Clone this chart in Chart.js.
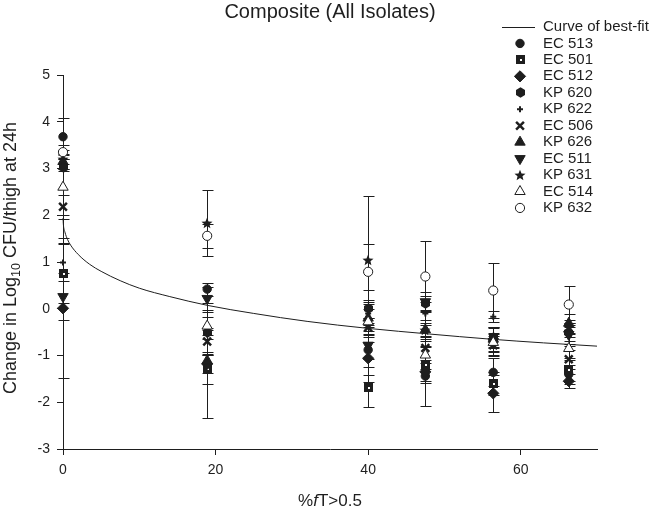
<!DOCTYPE html>
<html>
<head>
<meta charset="utf-8">
<script src="https://cdn.jsdelivr.net/npm/chart.js@4.4.1/dist/chart.umd.min.js"></script>
<style>
  html, body { margin: 0; padding: 0; background: #fff; }
</style>
</head>
<body>
<canvas id="chart" width="650" height="509"></canvas>
<script>
// x positions (%fT>0.5) shared by every isolate
const xValues = [0, 18.9, 40, 47.5, 56.4, 66.3];
const xTicks = [0, 20, 40, 60];

// change in log10 CFU/thigh, mean and error per isolate
const ec513 = [3.68, 0.42, -0.88, -1.44, -1.36, -1.40];
const ec513Err = [0.40, 0.14, 0.68, 0.64, 0.30, 0.20];
const ec501 = [0.76, -1.27, -1.68, -1.20, -1.60, -1.30];
const ec501Err = [0.64, 0.35, 0.43, 0.38, 0.25, 0.25];
const ec512 = [0.01, -1.18, -1.06, -1.35, -1.81, -1.55];
const ec512Err = [1.50, 0.20, 0.35, 0.20, 0.40, 0.15];
const kp620 = [3.02, -0.51, 0.01, 0.12, -0.62, -0.50];
const kp620Err = [0.08, 0.45, 0.39, 0.15, 0.20, 0.20];
const kp622 = [0.99, -0.55, -0.10, -0.10, -0.17, -0.60];
const kp622Err = [0.40, 0.10, 0.20, 0.25, 0.12, 0.20];
const ec506 = [2.18, -0.70, -0.40, -0.84, -0.78, -1.08];
const ec506Err = [0.26, 0.29, 0.20, 0.25, 0.20, 0.20];
const kp626 = [3.15, -1.11, -0.20, -0.45, -0.65, -0.31];
const kp626Err = [0.15, 1.23, 0.35, 0.20, 0.25, 0.20];
const ec511 = [0.26, 0.22, -0.78, 0.15, -0.70, -0.55];
const ec511Err = [0.50, 0.25, 0.30, 0.20, 0.30, 0.20];
const kp631 = [3.20, 1.83, 1.04, -0.45, -0.68, -0.40];
const kp631Err = [0.20, 0.70, 1.38, 0.15, 0.15, 0.15];
const ec514 = [2.60, -0.37, -0.28, -0.99, -0.72, -0.85];
const ec514Err = [0.60, 0.20, 0.28, 0.30, 0.20, 0.25];
const kp632 = [3.35, 1.56, 0.79, 0.69, 0.39, 0.09];
const kp632Err = [0.15, 0.25, 0.60, 0.75, 0.58, 0.40];

// curve of best-fit
const curveX = [0, 0.05, 0.25, 0.6, 1, 2, 3.5, 5, 7.5, 10, 14, 19, 25, 32, 40, 48, 56, 63, 70];
const curveY = [1.94, 1.80, 1.64, 1.48, 1.36, 1.16, 0.95, 0.80, 0.60, 0.44, 0.26, 0.07, -0.10, -0.27, -0.42, -0.54, -0.65, -0.73, -0.80];

const FONT = "'Liberation Sans', Arial, Helvetica, sans-serif";
const INK = '#1e1e1e';

// marker images that chart.js doesn't have built in
function markerCanvas(size, draw) {
  const c = document.createElement('canvas');
  c.width = size; c.height = size;
  const g = c.getContext('2d');
  g.fillStyle = INK;
  draw(g, size / 2);
  return c;
}
const squareDot = markerCanvas(9, (g) => {
  g.fillRect(0, 0, 9, 9);
  g.fillStyle = '#fff';
  g.fillRect(4, 4, 2, 2);
});
const hexagon = markerCanvas(11, (g, m) => {
  g.beginPath();
  for (let i = 0; i < 6; i++) {
    const a = -Math.PI / 2 + i * Math.PI / 3;
    g.lineTo(m + Math.cos(a) * 5.2, m + Math.sin(a) * 5.2);
  }
  g.closePath();
  g.fill();
});
const star = markerCanvas(12, (g, m) => {
  g.beginPath();
  for (let i = 0; i < 10; i++) {
    const a = -Math.PI / 2 + i * Math.PI / 5;
    const r = i % 2 ? 2.6 : 5.8;
    g.lineTo(m + Math.cos(a) * r, m + Math.sin(a) * r + 0.5);
  }
  g.closePath();
  g.fill();
});

const series = [
  { label: 'EC 513', y: ec513, err: ec513Err, pointStyle: 'circle', radius: 4.2, bg: INK },
  { label: 'EC 501', y: ec501, err: ec501Err, pointStyle: squareDot, radius: 4, bg: INK },
  { label: 'EC 512', y: ec512, err: ec512Err, pointStyle: 'rectRot', radius: 5.6, bg: INK },
  { label: 'KP 620', y: kp620, err: kp620Err, pointStyle: hexagon, radius: 4, bg: INK },
  { label: 'KP 622', y: kp622, err: kp622Err, pointStyle: 'cross', radius: 3, bg: INK, bw: 2 },
  { label: 'EC 506', y: ec506, err: ec506Err, pointStyle: 'crossRot', radius: 5.5, bg: INK, bw: 2.5 },
  { label: 'KP 626', y: kp626, err: kp626Err, pointStyle: 'triangle', radius: 6, bg: INK },
  { label: 'EC 511', y: ec511, err: ec511Err, pointStyle: 'triangle', radius: 6, bg: INK, rotation: 180 },
  { label: 'KP 631', y: kp631, err: kp631Err, pointStyle: star, radius: 5, bg: INK },
  { label: 'EC 514', y: ec514, err: ec514Err, pointStyle: 'triangle', radius: 6, bg: '#fff' },
  { label: 'KP 632', y: kp632, err: kp632Err, pointStyle: 'circle', radius: 4.6, bg: '#fff' }
];

const datasets = [{
  label: 'Curve of best-fit',
  data: curveX.map((x, i) => ({ x: x, y: curveY[i] })),
  showLine: true,
  borderColor: INK,
  borderWidth: 1,
  pointRadius: 0,
  cubicInterpolationMode: 'monotone',
  clip: false,
  order: 20
}];
series.forEach((s, i) => {
  datasets.push({
    label: s.label,
    data: xValues.map((x, k) => ({ x: x, y: s.y[k] })),
    errors: s.err,
    showLine: false,
    pointStyle: s.pointStyle,
    pointRadius: s.radius,
    pointRotation: s.rotation || 0,
    backgroundColor: s.bg,
    borderColor: INK,
    borderWidth: s.bw || 1,
    clip: false,
    order: series.length - i
  });
});

// vertical error bars with caps, drawn under the markers
const errorBars = {
  id: 'errorBars',
  beforeDatasetsDraw(chart) {
    const { ctx, scales: { x, y } } = chart;
    ctx.imageSmoothingEnabled = false;
    ctx.save();
    ctx.strokeStyle = INK;
    ctx.lineWidth = 1;
    chart.data.datasets.forEach((ds) => {
      if (!ds.errors) return;
      ds.data.forEach((p, i) => {
        const e = ds.errors[i];
        const px = Math.round(x.getPixelForValue(p.x)) + 0.5;
        const top = Math.round(y.getPixelForValue(p.y + e)) + 0.5;
        const bot = Math.round(y.getPixelForValue(p.y - e)) + 0.5;
        ctx.beginPath();
        ctx.moveTo(px, top); ctx.lineTo(px, bot);
        ctx.moveTo(px - 5, top); ctx.lineTo(px + 6, top);
        ctx.moveTo(px - 5, bot); ctx.lineTo(px + 6, bot);
        ctx.stroke();
      });
    });
    ctx.restore();
  }
};

// title, axis titles and the legend in the top right corner
const labels = {
  id: 'labels',
  afterDraw(chart) {
    const { ctx, chartArea } = chart;
    ctx.save();
    ctx.imageSmoothingEnabled = false;
    ctx.fillStyle = INK;

    ctx.font = '20px ' + FONT;
    ctx.textAlign = 'center';
    ctx.textBaseline = 'middle';
    ctx.fillText('Composite (All Isolates)', (chartArea.left + chartArea.right) / 2, 12);

    // x title: %fT>0.5 with italic f
    ctx.textBaseline = 'alphabetic';
    ctx.textAlign = 'left';
    const xParts = [['%', ''], ['f', 'italic '], ['T>0.5', '']];
    let w = 0;
    xParts.forEach((p) => { ctx.font = p[1] + '17px ' + FONT; w += ctx.measureText(p[0]).width; });
    let cx = 330 - w / 2;
    xParts.forEach((p) => {
      ctx.font = p[1] + '17px ' + FONT;
      ctx.fillText(p[0], cx, 506);
      cx += ctx.measureText(p[0]).width;
    });

    // y title with subscript 10
    ctx.translate(16, 258);
    ctx.rotate(-Math.PI / 2);
    const yParts = [['Change in Log', 18, 0], ['10', 12.5, 4], [' CFU/thigh at 24h', 18, 0]];
    w = 0;
    yParts.forEach((p) => { ctx.font = p[1] + 'px ' + FONT; w += ctx.measureText(p[0]).width; });
    cx = -w / 2;
    yParts.forEach((p) => {
      ctx.font = p[1] + 'px ' + FONT;
      ctx.fillText(p[0], cx, p[2]);
      cx += ctx.measureText(p[0]).width;
    });
    ctx.setTransform(1, 0, 0, 1, 0, 0);

    // legend
    const markX = 520, textX = 543, rowY = 27, rowH = 16.45;
    ctx.font = '15px ' + FONT;
    ctx.textBaseline = 'middle';
    ctx.strokeStyle = INK;
    ctx.lineWidth = 1;
    ctx.beginPath();
    ctx.moveTo(502, rowY + 0.5); ctx.lineTo(535, rowY + 0.5);
    ctx.stroke();
    ctx.fillText('Curve of best-fit', textX, rowY);
    series.forEach((s, i) => {
      const yy = rowY + rowH * (i + 1);
      ctx.fillStyle = s.bg;
      ctx.strokeStyle = INK;
      ctx.lineWidth = s.bw || 1;
      Chart.helpers.drawPoint(ctx, {
        pointStyle: s.pointStyle, radius: s.radius,
        rotation: s.rotation || 0, borderWidth: s.bw || 1
      }, markX, yy);
      ctx.fillStyle = INK;
      ctx.fillText(s.label, textX, yy);
    });
    ctx.restore();
  }
};

new Chart(document.getElementById('chart'), {
  type: 'scatter',
  data: { datasets: datasets },
  plugins: [errorBars, labels],
  options: {
    responsive: false,
    devicePixelRatio: 1,
    animation: false,
    events: [],
    layout: { padding: { top: 75, right: 53, left: 0, bottom: 0 } },
    plugins: { legend: { display: false }, title: { display: false }, tooltip: { enabled: false } },
    scales: {
      x: {
        type: 'linear',
        min: 0,
        max: 70,
        afterBuildTicks: (s) => { s.ticks = xTicks.map((v) => ({ value: v })); },
        afterFit: (s) => { s.height = 60; },
        ticks: { font: { family: FONT, size: 14 }, color: INK, padding: 7 },
        grid: { drawOnChartArea: false, drawTicks: true, tickLength: 6, color: INK },
        border: { display: true, color: INK, width: 1 }
      },
      y: {
        min: -3,
        max: 5,
        afterFit: (s) => { s.width = 63; },
        ticks: { stepSize: 1, font: { family: FONT, size: 14 }, color: INK, padding: 7 },
        grid: { drawOnChartArea: false, drawTicks: true, tickLength: 6, color: INK },
        border: { display: true, color: INK, width: 1 }
      }
    }
  }
});
</script>
</body>
</html>
